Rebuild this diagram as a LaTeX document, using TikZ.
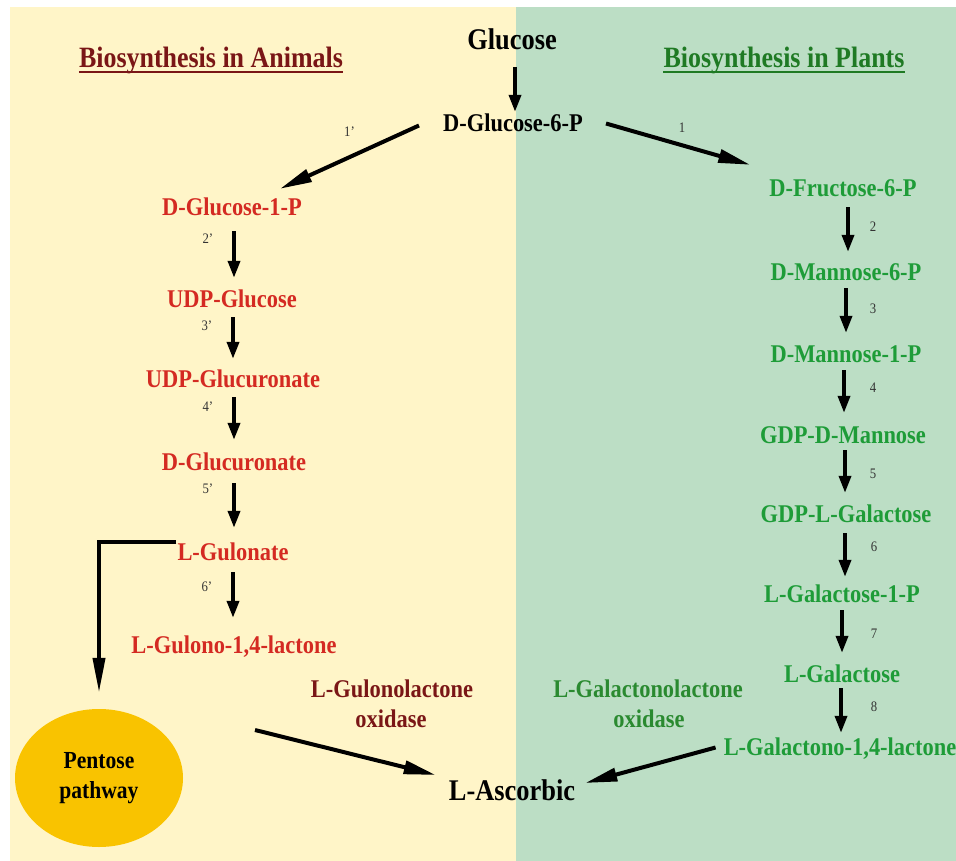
\documentclass[tikz,border=0pt]{standalone}
\usepackage{fontspec}
\setmainfont{Liberation Serif}[FakeStretch=0.88]
\usetikzlibrary{arrows.meta,shapes.geometric}
\definecolor{bgY}{HTML}{FFF5C8}
\definecolor{bgG}{HTML}{BCDEC5}
\definecolor{cRed}{HTML}{D42A22}
\definecolor{cGrn}{HTML}{1E9C38}
\definecolor{dRed}{HTML}{7A1616}
\definecolor{dGrn}{HTML}{1F7A24}
\definecolor{oGrn}{HTML}{2A8A30}
\definecolor{gold}{HTML}{F9C300}
\definecolor{lbl}{HTML}{333333}
\begin{document}
\begin{tikzpicture}[x=1pt,y=-1pt,
  bnode/.style={inner sep=0pt, anchor=base, text depth=0pt},
  cmp/.style={bnode, font=\fontsize{25.5}{28}\selectfont\bfseries, text height=17pt},
  anim/.style={cmp, text=cRed},
  plnt/.style={cmp, text=cGrn},
  big/.style={bnode, font=\fontsize{30}{32}\selectfont\bfseries, text height=20pt},
  ttl/.style={bnode, font=\fontsize{29.5}{32}\selectfont\bfseries},
  enz/.style={cmp},
  nlbl/.style={font=\fontsize{14.5}{14.5}\selectfont, text=lbl, inner sep=0pt},
  vstep/.style={line width=3.6pt, -{Triangle[length=17pt,width=12pt]}, shorten <=10pt, shorten >=11pt},
  dstep/.style={line width=4pt, -{Triangle[length=32pt,width=13pt]}},
  undl/.style={line width=2pt},
]
\useasboundingbox (0,0) rectangle (956,861);
\fill[white] (0,0) rectangle (956,861);
\fill[bgY] (10,7) rectangle (516,861);
\fill[bgG] (516,7) rectangle (956,861);

% titles
\node[ttl, text=dRed] (tA) at (211,68) {Biosynthesis in Animals};
\node[ttl, text=dGrn] (tP) at (784,68) {Biosynthesis in Plants};
\draw[undl, dRed] ([yshift=-4pt]tA.base west) -- ([yshift=-4pt]tA.base east);
\draw[undl, dGrn] ([yshift=-4pt]tP.base west) -- ([yshift=-4pt]tP.base east);

% top
\node[big] (glc) at (512,50) {Glucose};
\node[cmp] (g6p) at (513,132) {D-Glucose-6-P};
\draw[vstep, shorten <=17pt, shorten >=3pt] ([xshift=3pt]glc.south) -- ([xshift=3pt]glc.south |- g6p.north);

% animals
\node[anim] (g1p) at (232,216) {D-Glucose-1-P};
\node[anim] (udpg) at (232,307) {UDP-Glucose};
\node[anim] (udpga) at (233,387) {UDP-Glucuronate};
\node[anim] (dglca) at (234,470) {D-Glucuronate};
\node[anim] (gul) at (233,560) {L-Gulonate};
\node[anim] (gulac) at (234,653) {L-Gulono-1,4-lactone};

\draw[vstep, shorten <=15pt, shorten >=12pt] ([xshift=2pt]g1p.south) -- node[nlbl, pos=0.3, left=19pt] {2’} ([xshift=2pt]g1p.south |- udpg.north);
\draw[vstep] ([xshift=1pt]udpg.south) -- node[nlbl, pos=0.3, left=19pt] {3’} ([xshift=1pt]udpg.south |- udpga.north);
\draw[vstep, shorten >=13pt] ([xshift=1pt]udpga.south) -- node[nlbl, pos=0.3, left=19pt] {4’} ([xshift=1pt]udpga.south |- dglca.north);
\draw[vstep, shorten <=13pt, shorten >=15pt] (dglca.south) -- node[nlbl, pos=0.25, left=19pt] {5’} (dglca.south |- gul.north);
\draw[vstep, shorten <=12pt, shorten >=18pt] (gul.south) -- node[nlbl, pos=0.35, left=19pt] {6’} (gul.south |- gulac.north);

% pentose branch
\node[ellipse, fill=gold, minimum width=168pt, minimum height=138pt, inner sep=0pt,
      align=center, font=\fontsize{24.5}{30}\selectfont\bfseries] (pent) at (99,778) {Pentose\\pathway};
\draw[line width=4pt, -{Triangle[length=35pt,width=12pt]}, shorten >=16pt]
  ([xshift=-1pt,yshift=10pt]gul.west) -| (pent.north);

% animal enzyme
\node[enz, text=dRed] (enzA1) at (392,697) {L-Gulonolactone};
\node[enz, text=dRed] (enzA2) at (391,727) {oxidase};

% ascorbic
\node[big] (asc) at (512,800) {L-Ascorbic};
\coordinate (gstart) at (255,730);
\draw[dstep] (gstart) -- ([xshift=-13pt,yshift=15pt]asc.west);

% plants
\node[plnt] (fru) at (843,197) {D-Fructose-6-P};
\node[plnt] (m6p) at (846,280) {D-Mannose-6-P};
\node[plnt] (m1p) at (846,362) {D-Mannose-1-P};
\node[plnt] (gdpm) at (843,443) {GDP-D-Mannose};
\node[plnt] (gdpg) at (846,522) {GDP-L-Galactose};
\node[plnt] (gal1p) at (842,602) {L-Galactose-1-P};
\node[plnt] (gal) at (842,682) {L-Galactose};
\node[plnt] (galac) at (840,755) {L-Galactono-1,4-lactone};

\draw[vstep] ([xshift=5pt]fru.south) -- node[nlbl, pos=0.45, right=20pt] {2} ([xshift=5pt]fru.south |- m6p.north);
\draw[vstep, shorten <=8pt, shorten >=12pt] (m6p.south) -- node[nlbl, pos=0.45, right=22pt] {3} (m6p.south |- m1p.north);
\draw[vstep, shorten <=8pt, shorten >=13pt] ([xshift=-2pt]m1p.south) -- node[nlbl, pos=0.4, right=24pt] {4} ([xshift=-2pt]m1p.south |- gdpm.north);
\draw[vstep, shorten <=7pt, shorten >=12pt] ([xshift=2pt]gdpm.south) -- node[nlbl, pos=0.5, right=23pt] {5} ([xshift=2pt]gdpm.south |- gdpg.north);
\draw[vstep, shorten <=11pt, shorten >=8pt] ([xshift=-1pt]gdpg.south) -- node[nlbl, pos=0.4, right=24pt] {6} ([xshift=-1pt]gdpg.south |- gal1p.north);
\draw[vstep, shorten <=8pt, shorten >=12pt] (gal1p.south) -- node[nlbl, pos=0.5, right=27pt] {7} (gal1p.south |- gal.north);
\draw[vstep, shorten <=6pt, shorten >=5pt] ([xshift=-1pt]gal.south) -- node[nlbl, pos=0.45, right=28pt] {8} ([xshift=-1pt]gal.south |- galac.north);

% plant enzyme
\node[enz, text=oGrn] (enzP1) at (648,697) {L-Galactonolactone};
\node[enz, text=oGrn] (enzP2) at (649,727) {oxidase};
\draw[dstep] ([xshift=-8pt,yshift=-1pt]galac.west) -- ([xshift=10pt,yshift=7pt]asc.east);

% first steps
\draw[dstep] ([xshift=-24pt,yshift=-2pt]g6p.west) -- node[nlbl, midway, yshift=25pt] {1’} ([xshift=118pt,yshift=10pt]g1p.north west);
\draw[dstep] ([xshift=23pt]g6p.east) -- node[nlbl, midway, xshift=4pt, yshift=16pt] {1} ([xshift=-19pt,yshift=15pt]fru.north west);
\end{tikzpicture}
\end{document}
